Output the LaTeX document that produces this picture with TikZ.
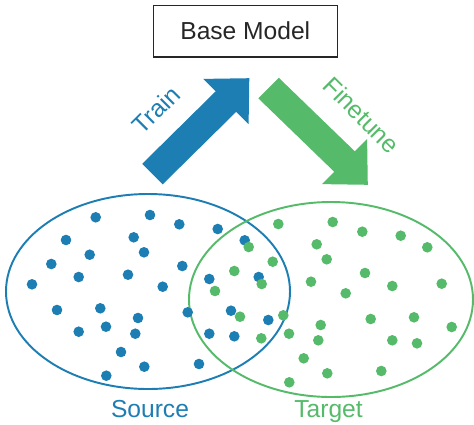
\documentclass[tikz,border=0pt]{standalone}
\usepackage{fontspec}
\setmainfont{Liberation Sans}
\definecolor{srcblue}{RGB}{29,126,179}
\definecolor{tgtgreen}{RGB}{85,187,106}
\tikzset{
  lbl/.style={font=\fontsize{14}{16}\selectfont, inner sep=0pt},
  setline/.style={line width=1.1pt},
  dotsrc/.style={fill=srcblue},
  dottgt/.style={fill=tgtgreen}
}
\begin{document}
\begin{tikzpicture}[x=0.02cm,y=-0.02cm]
\useasboundingbox (0,0) rectangle (474,424);
% base model box
\node[draw=black!85, line width=0.8pt, lbl, text=black!85, minimum width=3.68cm, minimum height=1.04cm] (base) at (245.3,31.2) {Base Model};
% arrows
\fill[srcblue] (142.25,163.75) -- (215.75,91.25) -- (203.4,78.9) -- (249.3,78.2) -- (248.6,124.1) -- (236.25,111.75) -- (162.75,184.25) -- cycle;
\fill[tgtgreen] (278.75,77.75) -- (354.75,151.25) -- (367.1,138.9) -- (367.8,184.8) -- (321.9,184.1) -- (334.25,171.75) -- (258.25,98.25) -- cycle;
\node[lbl, text=srcblue, rotate=45] (train) at (156,110) {Train};
\node[lbl, text=tgtgreen, rotate=-45] (finetune) at (361.7,115) {Finetune};
% ellipses
\draw[srcblue, setline] (148,291.5) ellipse [x radius=142, y radius=97.5];
\draw[tgtgreen, setline] (331,299.5) ellipse [x radius=142, y radius=97.5];
% source dots
\foreach \x/\y in {95.7/217.3, 150/215, 179.3/224.3, 217.7/229, 66/240, 133.7/237.3, 89.7/254.7, 144/252.3, 51.3/264, 182.3/266, 78.7/277, 128/274.7, 32/284.3, 209.3/279, 162.7/286.7, 57/310, 100.3/308.3, 187.7/312.3, 231/310.7, 138/318, 78.7/331.7, 106/326.7, 135.3/333.7, 209.3/333.7, 234.3/336.3, 121/352, 144.3/366.7, 199/364, 106.3/375.7, 244.7/240.3, 258.7/277, 268.3/320}
  \fill[dotsrc] (\x,\y) circle [radius=5.3];
% target dots
\foreach \x/\y in {278.3/224, 332.7/222, 362.3/231.7, 400.7/235.7, 248.7/247, 316.7/244.3, 427.3/247.3, 272.7/261.7, 326.7/259.3, 234.3/271, 365/273, 261.7/284, 311/281.7, 215/291, 392.3/286, 441.7/283.7, 345.7/293.3, 283.3/315.3, 240/316.7, 370.7/319, 414/317.3, 320.7/325, 451.7/327, 289/333.7, 261.3/338.3, 318.3/340.3, 392.3/340.3, 417/343.3, 303.7/358.3, 327.3/373.3, 381.3/371, 289.3/382.3}
  \fill[dottgt] (\x,\y) circle [radius=5.3];
% labels
\node[lbl, text=srcblue, anchor=base] (source) at (150,417) {Source};
\node[lbl, text=tgtgreen, anchor=base] (target) at (328.5,417) {Target};
\end{tikzpicture}
\end{document}
